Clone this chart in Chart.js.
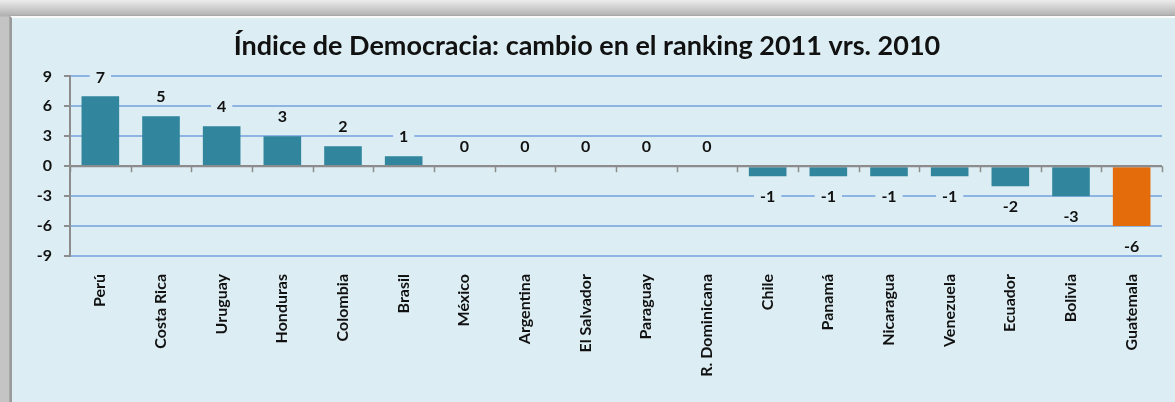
<!DOCTYPE html>
<html>
<head>
<meta charset="utf-8">
<script src="https://cdn.jsdelivr.net/npm/chart.js@4/dist/chart.umd.min.js"></script>
<style>
  html, body { margin: 0; padding: 0; }
  body {
    width: 1175px; height: 402px; overflow: hidden; position: relative;
    background: linear-gradient(#ececec, #b0b0b0 16px, #c4c4c4 17px);
  }
  #frame {
    position: absolute; left: 10px; top: 16px; width: 1175px; height: 400px;
    background: #dcedf3;
    border-left: 2px solid #9a9a9a; border-top: 2px solid #fafafa;
    box-shadow: -1px -1px 0 #a8a8a8;
  }
  #chart { position: absolute; left: 0; top: 0; }
</style>
</head>
<body>
<div id="frame"></div>
<canvas id="chart" width="1175" height="402"></canvas>
<script>
const countries = ["Perú", "Costa Rica", "Uruguay", "Honduras", "Colombia", "Brasil", "México",
    "Argentina", "El Salvador", "Paraguay", "R. Dominicana", "Chile", "Panamá", "Nicaragua",
    "Venezuela", "Ecuador", "Bolivia", "Guatemala"]
const rankChange = [7, 5, 4, 3, 2, 1, 0, 0, 0, 0, 0, -1, -1, -1, -1, -2, -3, -6]
const highlight = "Guatemala"
const yTicks = [-9, -6, -3, 0, 3, 6, 9]

const barColor = "#31859c"
const highlightColor = "#e46c0a"
const bgColor = "#dcedf3"
const gridColor = "#8db4e2"
const axisColor = "#8c8c8c"
const fontFamily = "Lato, 'Open Sans', sans-serif"

// labels with a background box, like the excel data labels
const valueLabels = {
    id: "valueLabels",
    afterDatasetsDraw(chart) {
        const ctx = chart.ctx
        const meta = chart.getDatasetMeta(0)
        ctx.save()
        ctx.font = "bold 16px " + fontFamily
        ctx.textAlign = "center"
        ctx.textBaseline = "middle"
        meta.data.forEach((bar, i) => {
            const v = rankChange[i]
            const y = v >= 0 ? bar.y - 20 : bar.y + 20
            const txt = String(v)
            const w = ctx.measureText(txt).width + 12
            ctx.fillStyle = bgColor
            ctx.fillRect(bar.x - w / 2, y - 8, w, 16)
            ctx.fillStyle = "#111"
            ctx.fillText(txt, bar.x, y + 1)
        })
        ctx.restore()
    }
}

// category tick marks sit on the zero line
const zeroAxisTicks = {
    id: "zeroAxisTicks",
    afterDatasetsDraw(chart) {
        const ctx = chart.ctx
        const xs = chart.scales.x
        const y0 = chart.scales.y.getPixelForValue(0)
        ctx.save()
        ctx.strokeStyle = axisColor
        ctx.lineWidth = 2
        ctx.beginPath()
        ctx.moveTo(xs.left, y0)
        ctx.lineTo(xs.right, y0)
        ctx.stroke()
        ctx.lineWidth = 1.5
        for (let i = 0; i <= countries.length; i++) {
            const x = Math.round(xs.getPixelForValue(i - 0.5)) + 0.5
            ctx.beginPath()
            ctx.moveTo(x, y0)
            ctx.lineTo(x, y0 + 6)
            ctx.stroke()
        }
        ctx.restore()
    }
}

new Chart(document.getElementById("chart"), {
    type: "bar",
    data: {
        labels: countries,
        datasets: [{
            data: rankChange,
            backgroundColor: countries.map(c => c == highlight ? highlightColor : barColor),
            barPercentage: 0.62,
            categoryPercentage: 1
        }]
    },
    options: {
        responsive: false,
        animation: false,
        layout: { padding: { left: 12, right: 13, top: 0, bottom: 0 } },
        plugins: {
            legend: { display: false },
            tooltip: { enabled: false },
            title: {
                display: true,
                text: "Índice de Democracia: cambio en el ranking 2011 vrs. 2010",
                color: "#111",
                font: { family: fontFamily, size: 27, weight: "bold", lineHeight: 1.2 },
                padding: { top: 30, bottom: 14 }
            }
        },
        scales: {
            x: {
                grid: { display: false },
                border: { display: false },
                ticks: {
                    color: "#111",
                    font: { family: fontFamily, size: 16, weight: "bold" },
                    minRotation: 90,
                    maxRotation: 90,
                    padding: 10,
                    autoSkip: false
                },
                afterFit(scale) { scale.height = 146 }
            },
            y: {
                min: -9,
                max: 9,
                afterBuildTicks(scale) { scale.ticks = yTicks.map(v => ({ value: v })) },
                grid: {
                    color: ctx => ctx.tick && ctx.tick.value === 0 ? axisColor : gridColor,
                    lineWidth: 2,
                    tickColor: axisColor,
                    tickLength: 6
                },
                border: { color: axisColor, width: 2 },
                ticks: {
                    color: "#111",
                    font: { family: fontFamily, size: 16, weight: "bold" },
                    padding: 12
                },
                afterFit(scale) { scale.width = 58 }
            }
        }
    },
    plugins: [valueLabels, zeroAxisTicks]
})
</script>
</body>
</html>
